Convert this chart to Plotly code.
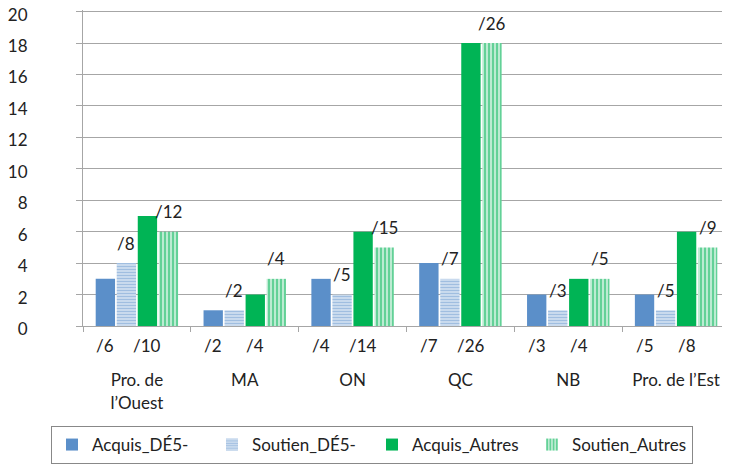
import plotly.graph_objects as go

# Data
regions = ['Pro. de<br>l’Ouest', 'MA', 'ON', 'QC', 'NB', 'Pro. de l’Est']
acquis_de5 = [3, 1, 3, 4, 2, 2]
soutien_de5 = [4, 1, 2, 3, 1, 1]
acquis_autres = [7, 2, 6, 18, 3, 6]
soutien_autres = [6, 3, 5, 18, 3, 5]

# totals shown under the axis (under Acquis bars) and above the Soutien bars
tot_acquis_de5 = ['/6', '/2', '/4', '/7', '/3', '/5']
tot_acquis_autres = ['/10', '/4', '/14', '/26', '/4', '/8']
tot_soutien_de5 = ['/8', '/2', '/5', '/7', '/3', '/5']
tot_soutien_autres = ['/12', '/4', '/15', '/26', '/5', '/9']

blue = '#5B8FC9'
green = '#00B455'
grid = '#A6A6A6'
font = 'Lato, Open Sans, sans-serif'

# page body adds an 8px margin, so the figure is a bit smaller than the window
W, H = 722, 456
margin = dict(l=75, r=0, t=2, b=136)
bargap = 0.22
bargroupgap = 0.08

fig = go.Figure()
fig.add_trace(go.Bar(x=regions, y=acquis_de5, name='Acquis_DÉ5-',
                     marker=dict(color=blue, line=dict(width=0))))
fig.add_trace(go.Bar(x=regions, y=soutien_de5, name='Soutien_DÉ5-',
                     marker=dict(color='white', line=dict(width=0),
                                 pattern=dict(shape='-', fgcolor=blue, bgcolor='#E4ECF6',
                                              size=3, solidity=0.6))))
fig.add_trace(go.Bar(x=regions, y=acquis_autres, name='Acquis_Autres',
                     marker=dict(color=green, line=dict(width=0))))
fig.add_trace(go.Bar(x=regions, y=soutien_autres, name='Soutien_Autres',
                     marker=dict(color='white', line=dict(width=0),
                                 pattern=dict(shape='|', fgcolor=green, bgcolor='#C6EED8',
                                              size=4, solidity=0.55))))

# pixel offset of each bar inside its group
cat_px = (W - margin['l'] - margin['r']) / len(regions)
slot = cat_px * (1 - bargap) / 4
offs = [(i - 1.5) * slot for i in range(4)]

for i, r in enumerate(regions):
    # below the axis
    for k, t in ((0, tot_acquis_de5[i]), (2, tot_acquis_autres[i])):
        fig.add_annotation(x=r, y=0, text=t, xshift=offs[k], yshift=-19,
                           showarrow=False, font=dict(size=17, color='#222'))
    # above the Soutien bars
    for k, t, v in ((1, tot_soutien_de5[i], soutien_de5[i]),
                    (3, tot_soutien_autres[i], soutien_autres[i])):
        fig.add_annotation(x=r, y=v, text=t, xshift=offs[k], yshift=20,
                           showarrow=False, font=dict(size=17, color='#222'))

# range a touch above 20 so the top gridline is kept
fig.update_yaxes(range=[0, 20.1], tickvals=list(range(0, 21, 2)), showgrid=True,
                 gridcolor=grid, gridwidth=1,
                 showline=True, linecolor=grid, ticks='outside', ticklen=6,
                 tickcolor=grid, ticklabelstandoff=45, ticklabelshift=3,
                 ticklabeloverflow='allow', zeroline=False, automargin=False,
                 tickfont=dict(size=17, color='#222'))
fig.update_xaxes(showline=True, linecolor=grid, ticks='outside', ticklen=5,
                 tickcolor=grid, tickson='boundaries', ticklabelstandoff=39,
                 automargin=False, tickfont=dict(size=17, color='#222'))

fig.update_layout(width=W, height=H, margin=margin,
                  barmode='group', bargap=bargap, bargroupgap=bargroupgap,
                  paper_bgcolor='white', plot_bgcolor='white',
                  font=dict(family=font, size=17, color='#222'),
                  showlegend=True,
                  legend=dict(orientation='h', x=-0.0495, y=-0.318,
                              xanchor='left', yanchor='top',
                              bordercolor='#888', borderwidth=1,
                              font=dict(size=17), itemwidth=30,
                              entrywidth=115, entrywidthmode='pixels',
                              traceorder='normal'))

fig.write_html("out.html")
